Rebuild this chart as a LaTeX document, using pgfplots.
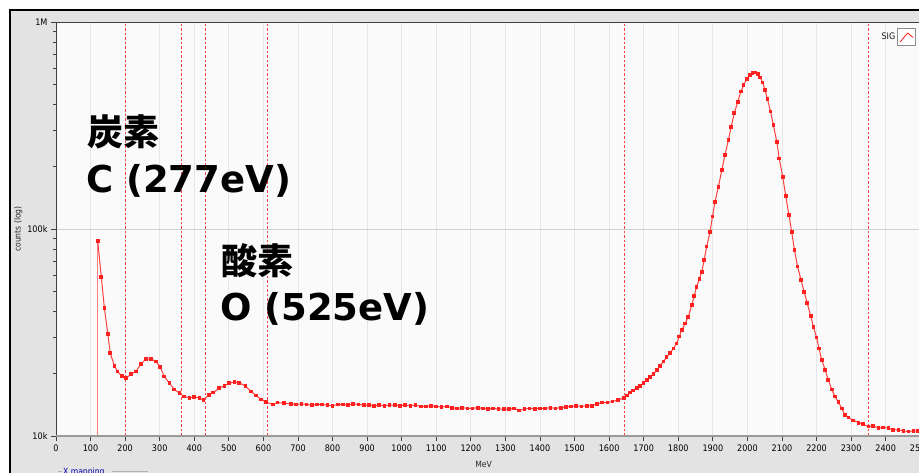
\documentclass[border=0pt]{standalone}
\usepackage{pgfplots}
\pgfplotsset{compat=1.18}
\usepackage{fontspec}
\setmainfont{DejaVu Sans Condensed}
\newfontfamily\dvb{DejaVu Sans}
\newfontfamily\jp{Noto Sans CJK JP}
\definecolor{bg}{HTML}{E3E3E3}
\definecolor{plotbg}{HTML}{FAFAFA}
\definecolor{gridc}{HTML}{E6E6E6}
\definecolor{sig}{HTML}{FF0000}
\definecolor{sigline}{HTML}{FF4040}
\definecolor{mark}{HTML}{FF2020}
\begin{document}
\begin{tikzpicture}
\useasboundingbox (0pt,0pt) rectangle (919pt,-472pt);
\fill[white] (0pt,0pt) rectangle (919pt,-472pt);
\fill[bg] (10pt,-10pt) rectangle (930pt,-480pt);
\draw[black, line width=1.5pt] (10pt,-480pt) -- (10pt,-10pt) -- (930pt,-10pt);
\begin{axis}[
  name=ax,
  at={(56pt,-436pt)}, anchor=south west,
  scale only axis, width=871.2pt, height=414pt,
  xmin=0, xmax=2520, ymode=log, ymin=1e4, ymax=1e6,
  axis background/.style={fill=plotbg},
  axis line style={draw=none},
  tick align=outside, xtick pos=bottom, ytick pos=left,
  major tick length=5pt,
  tick style={black!75, line width=0.8pt},
  xtick={0,100,...,2500},
  ytick={10000,100000,1000000}, yticklabels={10k,100k,1M},
  scaled x ticks=false,
  /pgf/number format/assume math mode=true,
  /pgf/number format/1000 sep={},
  ticklabel style={font=\fontsize{9}{10}\selectfont, text=black},
  xmajorgrids, ymajorgrids,
  x grid style={gridc, line width=0.8pt},
  y grid style={black!18, line width=0.8pt},
  xlabel={MeV}, ylabel={counts (log)},
  xlabel style={font=\fontsize{8.5}{10}\selectfont, text=black!85, xshift=-8pt, yshift=-3pt},
  ylabel style={font=\fontsize{8.5}{10}\selectfont, text=black!85, yshift=-2pt},
  legend plot pos=right,
  legend style={at={(rel axis cs:0.9873,0.9855)}, anchor=north east, draw=none, fill=none,
    font=\fontsize{9}{10}\selectfont, inner sep=0pt, text=black!90},
  legend cell align=left,
]
\addplot[forget plot, sig!50, line width=1.3pt] coordinates {(120.6,10000)(120.6,87500)};
\addplot[forget plot, sig!75, dash pattern=on 2.5pt off 2pt, line width=1pt] coordinates {(202,10000)(202,1000000)};
\addplot[forget plot, sig!75, dash pattern=on 2.5pt off 2pt, line width=1pt] coordinates {(362,10000)(362,1000000)};
\addplot[forget plot, sig!75, dash pattern=on 2.5pt off 2pt, line width=1pt] coordinates {(431,10000)(431,1000000)};
\addplot[forget plot, sig!75, dash pattern=on 2.5pt off 2pt, line width=1pt] coordinates {(613,10000)(613,1000000)};
\addplot[forget plot, sig!75, dash pattern=on 2.5pt off 2pt, line width=1pt] coordinates {(1643,10000)(1643,1000000)};
\addplot[forget plot, sig!75, dash pattern=on 2.5pt off 2pt, line width=1pt] coordinates {(2349,10000)(2349,1000000)};
\addplot[sigline, line width=1pt, mark=square*, mark size=1.35pt,
  mark options={draw=mark, fill=mark, line width=0pt},
  legend image code/.code={
    \draw[black!45, fill=white, line width=0.6pt] (0pt,-8.5pt) rectangle (18pt,8.5pt);
    \draw[sig, line width=0.7pt] (2.5pt,-5pt) -- (10pt,4pt) -- (15.5pt,-0.5pt);
  }] coordinates {
(120.6,87500)(131,58800)(140,41400)(150,31000)(157,25100)(169,21800)(178,20500)(190,19500)
(202,19000)(217,19900)(231,20500)(246,22300)(260,23500)(275,23600)(289,22900)(301,21600)
(313,19400)(328,18000)(342,16800)(357,16100)(371,15500)(386,15300)(400,15400)(415,15300)
(427,14900)(442,15800)(455,16200)(471,17000)(487,17500)(501,18000)(516,18200)(530,18100)
(548,17400)(564,16400)(579,15700)(593,15000)(607,14600)(627,14200)(641,14500)(660,14400)
(680,14300)(695,14200)(710,14300)(725,14200)(740,14100)(755,14200)(770,14200)(785,14100)
(800,14000)(815,14200)(830,14200)(845,14100)(860,14300)(875,14200)(890,14100)(905,14100)
(920,14000)(935,14100)(950,14000)(965,14100)(980,14100)(995,14000)(1010,14100)(1025,14000)
(1040,14100)(1055,13900)(1070,13900)(1085,14000)(1100,13900)(1115,13800)(1130,13900)(1145,13700)
(1160,13600)(1175,13700)(1190,13600)(1205,13600)(1220,13700)(1235,13600)(1250,13500)(1265,13600)
(1280,13500)(1295,13500)(1310,13500)(1325,13600)(1340,13300)(1355,13500)(1370,13600)(1385,13500)
(1400,13600)(1415,13600)(1430,13700)(1445,13600)(1460,13700)(1475,13800)(1490,13900)(1505,14000)
(1520,13900)(1535,14000)(1550,14000)(1565,14300)(1580,14500)(1595,14500)(1610,14700)(1625,14900)
(1643,15300)(1652,15700)(1661,16200)(1670,16600)(1680,17000)(1690,17500)(1699,18000)(1709,18600)
(1718,19300)(1728,20000)(1738,20800)(1747,21800)(1757,22900)(1766,24000)(1776,25100)(1786,26500)
(1795,28000)(1803,30200)(1810,32500)(1820,35000)(1829,37700)(1839,42900)(1846,47500)(1853,52600)
(1861,57500)(1868,62200)(1875,71000)(1882,82200)(1892,97000)(1899,115000)(1906,135000)(1916,160000)
(1926,193000)(1935,228000)(1945,269000)(1953,312000)(1962,362000)(1972,412000)(1981,461000)(1989,495000)
(1998,530000)(2007,555000)(2015,568000)(2022,570000)(2030,560000)(2037,540000)(2044,510000)(2051,469000)
(2058,423000)(2067,369000)(2075,318000)(2085,264000)(2092,219000)(2102,179000)(2111,144000)(2120,117000)
(2128,97000)(2136,79200)(2145,65800)(2155,56700)(2164,49800)(2173,43800)(2183,38000)(2191,33700)
(2200,29900)(2207,26500)(2215,23300)(2225,20800)(2234,18600)(2244,16800)(2253,15500)(2263,14600)
(2273,13600)(2282,12600)(2292,12300)(2306,11900)(2321,11600)(2335,11400)(2350,11100)(2364,11200)
(2379,10900)(2393,11000)(2408,10900)(2422,10700)(2437,10700)(2451,10600)(2466,10500)(2480,10600)
(2494,10600)(2509,10500)(2520,10500)
};
\addlegendentry{SIG}
\end{axis}
\draw[black!75, line width=0.9pt] (ax.south west) -- (ax.north west) -- (ax.north east);
\draw[black!40, line width=1.6pt] (ax.south west) -- (ax.south east);
\node[anchor=base west, inner sep=0pt, font=\jp\bfseries\fontsize{36}{36}\selectfont] at (87pt,-145pt) {炭素};
\node[anchor=base west, inner sep=0pt, font=\dvb\bfseries\fontsize{37}{37}\selectfont] at (86pt,-192pt) {C (277eV)};
\node[anchor=base west, inner sep=0pt, font=\jp\bfseries\fontsize{36}{36}\selectfont] at (221pt,-274pt) {酸素};
\node[anchor=base west, inner sep=0pt, font=\dvb\bfseries\fontsize{37}{37}\selectfont] at (220pt,-320pt) {O (525eV)};
\draw[black!30, line width=0.6pt] (58pt,-471pt) -- (62pt,-471pt);
\draw[black!30, line width=0.6pt] (112pt,-471pt) -- (148pt,-471pt);
\node[anchor=west, inner sep=1pt, font=\fontsize{8.5}{10}\selectfont, text=blue!65!black] at (62pt,-472pt) {X mapping};
\end{tikzpicture}
\end{document}
